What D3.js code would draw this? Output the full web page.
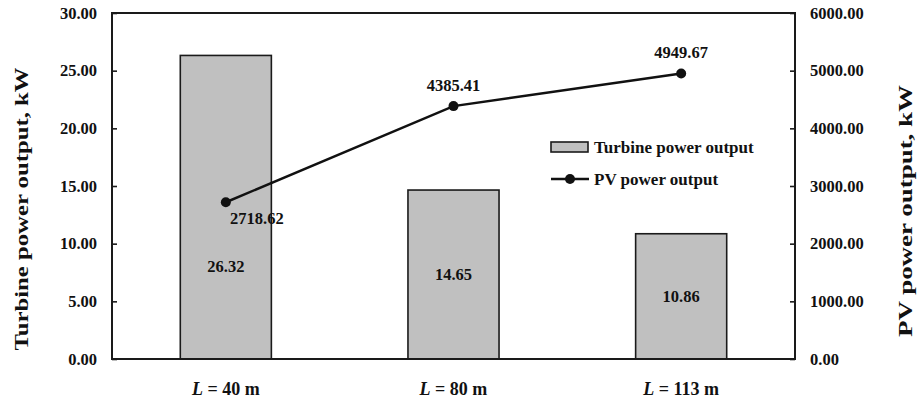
<!DOCTYPE html>
<html><head><meta charset="utf-8">
<script src="https://cdn.jsdelivr.net/npm/d3@7"></script>
<style>
html,body{margin:0;padding:0;background:#fff;}
svg{display:block;}
text{font-family:"Liberation Serif","Times New Roman",serif;font-weight:bold;fill:#111;}
</style></head>
<body>
<svg id="chart" width="917" height="403"></svg>
<script>
const categories = ["40", "80", "113"];
const turbinePower = [26.32, 14.65, 10.86];
const pvPower = [2718.62, 4385.41, 4949.67];
const leftTicks = [0, 5, 10, 15, 20, 25, 30];
const rightTicks = [0, 1000, 2000, 3000, 4000, 5000, 6000];

const svg = d3.select("#chart");
const m = {left:112, right:795, top:13, bottom:359};

const x = d3.scaleBand().domain(categories).range([m.left, m.right]).paddingInner(0.6).paddingOuter(0.3);
const yL = d3.scaleLinear().domain([0, 30]).range([m.bottom, m.top]);
const yR = d3.scaleLinear().domain([0, 6000]).range([m.bottom, m.top]);
const cx = d => x(d) + x.bandwidth()/2;

// bars
svg.selectAll("rect.bar").data(turbinePower).join("rect")
  .attr("class","bar")
  .attr("x",(d,i)=>x(categories[i]))
  .attr("y",d=>yL(d))
  .attr("width",x.bandwidth())
  .attr("height",d=>yL(0)-yL(d))
  .attr("fill","#c0c0c0").attr("stroke","#1a1a1a").attr("stroke-width",1.6);

// frame
svg.append("rect").attr("x",m.left).attr("y",m.top).attr("width",m.right-m.left).attr("height",m.bottom-m.top)
  .attr("fill","none").attr("stroke","#1a1a1a").attr("stroke-width",2);

// left axis
const axL = svg.append("g").attr("transform",`translate(${m.left},0)`)
  .call(d3.axisRight(yL).tickValues(leftTicks).tickSize(5).tickFormat(d3.format(".2f")));
axL.select(".domain").remove();
axL.selectAll("line").attr("stroke","#1a1a1a").attr("stroke-width",1.6);
axL.selectAll("text").attr("x",-15).attr("text-anchor","end").style("font-size","16.5px")
  .style("font-family","'Liberation Serif',serif").style("font-weight","bold").attr("fill","#111");

// right axis
const axR = svg.append("g").attr("transform",`translate(${m.right},0)`)
  .call(d3.axisLeft(yR).tickValues(rightTicks).tickSize(5).tickFormat(d3.format(".2f")));
axR.select(".domain").remove();
axR.selectAll("line").attr("stroke","#1a1a1a").attr("stroke-width",1.6);
axR.selectAll("text").attr("x",15).attr("text-anchor","start").style("font-size","16.5px")
  .style("font-family","'Liberation Serif',serif").style("font-weight","bold").attr("fill","#111");

// bottom category labels
categories.forEach(c=>{
  const t = svg.append("text").attr("x",cx(c)).attr("y",395).attr("text-anchor","middle").style("font-size","18px");
  t.append("tspan").style("font-style","italic").text("L");
  t.append("tspan").text(" = " + c + " m");
});

// bar value labels
const barLabelShift = [59, 0, 0];
turbinePower.forEach((v,i)=>{
  svg.append("text").attr("x",cx(categories[i])).attr("y",yL(v/2)+barLabelShift[i]).attr("dy","0.35em")
    .attr("text-anchor","middle").style("font-size","16.5px").text(v.toFixed(2));
});

// line
const line = d3.line().x((d,i)=>cx(categories[i])).y(d=>yR(d));
svg.append("path").datum(pvPower).attr("d",line).attr("fill","none").attr("stroke","#111").attr("stroke-width",2.5);
svg.selectAll("circle.pt").data(pvPower).join("circle").attr("class","pt")
  .attr("cx",(d,i)=>cx(categories[i])).attr("cy",d=>yR(d)).attr("r",5).attr("fill","#111");
const pvLabelOffset = [[31,16],[0,-21],[0,-21]];
pvPower.forEach((v,i)=>{
  svg.append("text").attr("x",cx(categories[i])+pvLabelOffset[i][0]).attr("y",yR(v)+pvLabelOffset[i][1]).attr("dy","0.35em")
    .attr("text-anchor","middle").style("font-size","16.5px").text(v.toFixed(2));
});

// axis titles
svg.append("text").attr("transform","translate(28,209) rotate(-90)").attr("text-anchor","middle")
  .style("font-size","19px").attr("textLength",283).attr("lengthAdjust","spacingAndGlyphs").text("Turbine power output, kW");
svg.append("text").attr("transform","translate(912,211) rotate(-90)").attr("text-anchor","middle")
  .style("font-size","19px").attr("textLength",252).attr("lengthAdjust","spacingAndGlyphs").text("PV power output, kW");

// legend
const lg = svg.append("g");
lg.append("rect").attr("x",551).attr("y",142).attr("width",37).attr("height",10)
  .attr("fill","#c0c0c0").attr("stroke","#1a1a1a").attr("stroke-width",1.6);
lg.append("text").attr("x",594).attr("y",147).attr("dy","0.35em").style("font-size","17px").text("Turbine power output");
lg.append("line").attr("x1",551).attr("x2",589).attr("y1",179).attr("y2",179).attr("stroke","#111").attr("stroke-width",2.5);
lg.append("circle").attr("cx",570).attr("cy",179).attr("r",5).attr("fill","#111");
lg.append("text").attr("x",594).attr("y",179).attr("dy","0.35em").style("font-size","17px").text("PV power output");
</script>
</body></html>
